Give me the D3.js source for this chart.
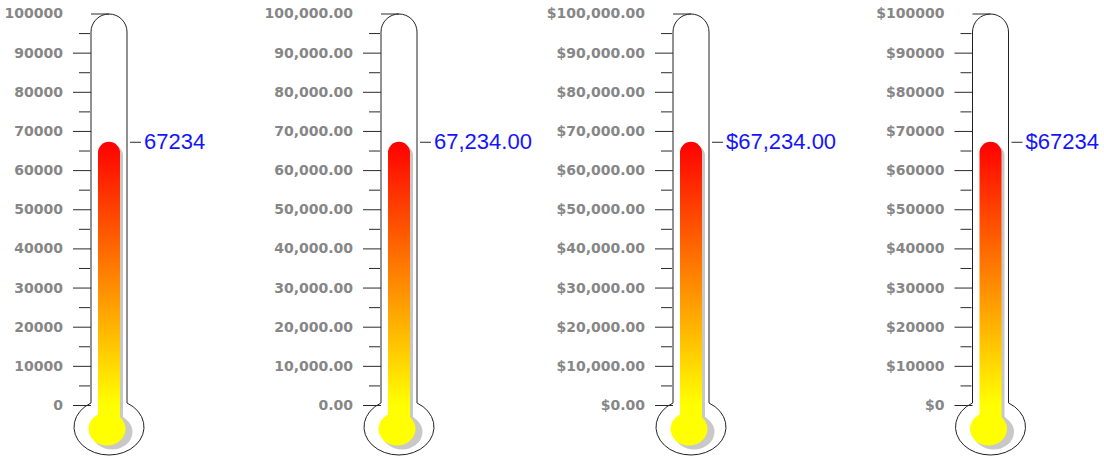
<!DOCTYPE html>
<html>
<head>
<meta charset="utf-8">
<script src="https://cdn.jsdelivr.net/npm/d3@7"></script>
<style>
  body { margin: 0; background: #fff; }
  .scale text { font-family: "DejaVu Sans", Verdana, sans-serif; font-weight: bold; font-size: 14px; fill: #868686; }
  .scale line, .minor line, .marker line { stroke: #2a2a2a; }
  .marker text { font-family: "Liberation Sans", Arial, sans-serif; font-size: 22px; fill: #1414ff; }
</style>
</head>
<body>
<div id="chart"></div>
<script>
// one thermometer per format, same value on each
const formats = ["d", ",.2f", "$,.2f", "$d"];
const values = [67234, 67234, 67234, 67234];
const scaleMin = 0;
const scaleMax = 100000;
const majorStep = 10000;
const minorStep = 5000;

const width = 1104;
const height = 459;
const centers = [109, 399, 691, 990.5];
const tubeR = 18;
const merR = 11;
const bulb = { cy: 427, rx: 35, ry: 28 };

const svg = d3
  .select("#chart")
  .append("svg")
  .attr("width", width)
  .attr("height", height);

const y = d3.scaleLinear().domain([scaleMin, scaleMax]).range([405, 13.5]);

const majors = d3.range(scaleMin, scaleMax + 1, majorStep);
const minors = d3.range(scaleMin, scaleMax, minorStep).filter((v) => v % majorStep !== 0);

const defs = svg.append("defs");

values.forEach((value, i) => {
  const cx = centers[i];
  const left = cx - tubeR;
  const right = cx + tubeR;
  const top = y(value);
  const g = svg.append("g");

  // tube outline with the bulb at the bottom
  const joinY = bulb.cy - bulb.ry * Math.sqrt(1 - (tubeR / bulb.rx) ** 2);
  const tubeTop = y(scaleMax) + 0.5;
  g.append("path")
    .attr(
      "d",
      `M${left},${joinY} L${left},${tubeTop + tubeR} A${tubeR},${tubeR} 0 0 1 ${right},${tubeTop + tubeR}` +
        ` L${right},${joinY} A${bulb.rx},${bulb.ry} 0 1 1 ${left},${joinY} Z`
    )
    .attr("fill", "#fff")
    .attr("stroke", "#222")
    .attr("stroke-width", 1);

  const grad = defs
    .append("linearGradient")
    .attr("id", `merc${i}`)
    .attr("gradientUnits", "userSpaceOnUse")
    .attr("x1", 0)
    .attr("x2", 0)
    .attr("y1", top)
    .attr("y2", y(scaleMin));
  grad.append("stop").attr("offset", 0).attr("stop-color", "#ff0000");
  grad.append("stop").attr("offset", 1).attr("stop-color", "#ffff00");

  const colPath =
    `M${cx - merR},${bulb.cy} L${cx - merR},${top + merR} A${merR},${merR} 0 0 1 ${cx + merR},${top + merR}` +
    ` L${cx + merR},${bulb.cy} Z`;

  // shadow
  g.append("path")
    .attr("d", colPath)
    .attr("fill", "#c8c8c8")
    .attr("transform", "translate(3,3)");
  g.append("ellipse")
    .attr("cx", cx + 3)
    .attr("cy", bulb.cy + 5)
    .attr("rx", 20.5)
    .attr("ry", 17.5)
    .attr("fill", "#c8c8c8");

  g.append("path").attr("d", colPath).attr("fill", `url(#merc${i})`);
  g.append("ellipse")
    .attr("cx", cx - 2)
    .attr("cy", bulb.cy + 2)
    .attr("rx", 18.5)
    .attr("ry", 16.5)
    .attr("fill", "#ffff00");

  // scale on the left
  const fmt = d3.format(formats[i]);
  const scale = g
    .append("g")
    .attr("class", "scale")
    .attr("transform", `translate(${left},0)`)
    .call(d3.axisLeft(y).tickValues(majors).tickFormat(fmt).tickSize(18).tickPadding(10));
  scale.select(".domain").remove();
  scale
    .selectAll(".tick")
    .filter((d) => d === scaleMax)
    .select("line")
    .attr("x2", tubeR);

  const minor = g
    .append("g")
    .attr("class", "minor")
    .attr("transform", `translate(${left - 1},0)`)
    .call(d3.axisLeft(y).tickValues(minors).tickFormat("").tickSize(11));
  minor.select(".domain").remove();

  // current value marker
  const marker = g
    .append("g")
    .attr("class", "marker")
    .attr("transform", `translate(${right + 3},0)`)
    .call(d3.axisRight(y).tickValues([value]).tickFormat(fmt).tickSize(11).tickPadding(3));
  marker.select(".domain").remove();
});
</script>
</body>
</html>
